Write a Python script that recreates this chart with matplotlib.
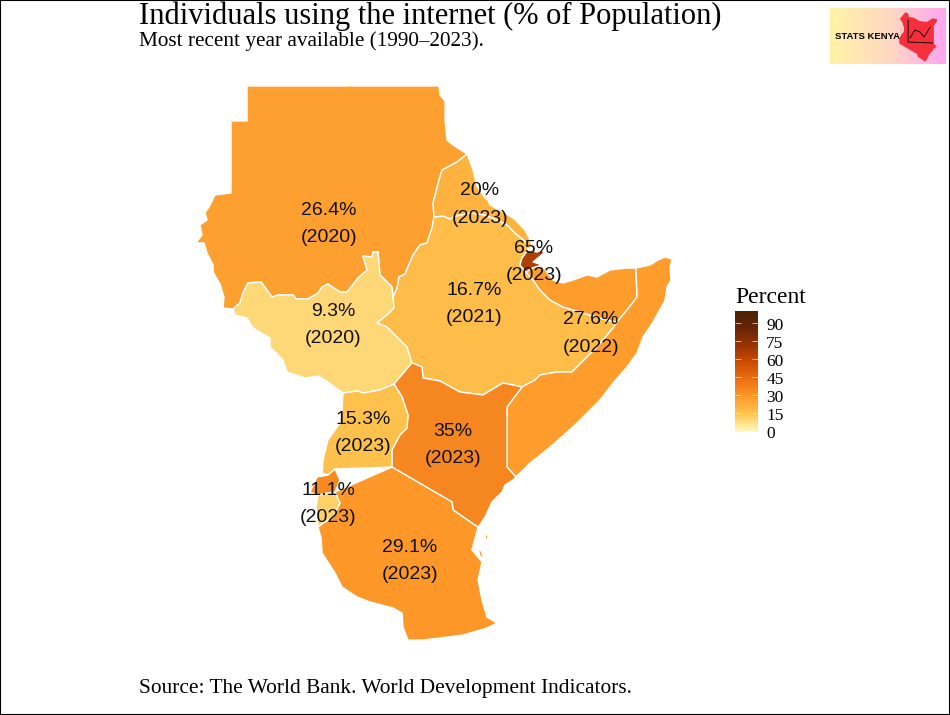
import numpy as np
import matplotlib
matplotlib.use("Agg")
import matplotlib.pyplot as plt
from matplotlib.patches import Polygon, Rectangle
from matplotlib.colors import LinearSegmentedColormap, Normalize
from matplotlib.cm import ScalarMappable
from matplotlib.transforms import ScaledTranslation

# ------------------------------------------------------------
# data: value, year, label position
# ------------------------------------------------------------
label_names = ["Sudan", "Eritrea", "Djibouti", "Ethiopia", "South Sudan",
               "Somalia", "Uganda", "Kenya", "Burundi", "Tanzania"]
label_values = [26.4, 20, 65, 16.7, 9.3, 27.6, 15.3, 35, 11.1, 29.1]
label_years = [2020, 2023, 2023, 2021, 2020, 2022, 2023, 2023, 2023, 2023]
label_lon = [30.13, 39.56, 42.94, 39.19, 30.38, 46.5, 32.25, 37.88, 30.06, 35.19]
label_lat = [13.31, 14.53, 10.93, 8.31, 7.0, 6.46, 0.25, -0.51, -4.19, -7.76]
rwanda_value = 34

legend_ticks = [0, 15, 30, 45, 60, 75, 90]
palette = ["#FFF7BC", "#FEC44F", "#FE9929", "#EC7014", "#CC4C02", "#993404", "#662506", "#4A2205"]

# ------------------------------------------------------------
# borders (lon, lat)
# ------------------------------------------------------------
sudan_outer = [(24.13, 8.0), (23.5, 8.06), (23.56, 8.75), (23.31, 9.56), (22.88, 10.31), (22.88, 10.75),
               (22.5, 11.5), (22.31, 12.13), (21.81, 12.13), (22.19, 12.63), (22.06, 13.25), (22.5, 13.56),
               (22.38, 14.0), (22.69, 14.5), (23.0, 15.13), (24.0, 15.25), (24.0, 19.75), (25.0, 19.75),
               (25.0, 21.94), (31.38, 21.94), (31.44, 22.13), (31.5, 21.94), (37.0, 21.94), (37.06, 21.38),
               (37.38, 21.0), (37.38, 19.81), (37.5, 18.56), (37.88, 18.25), (38.75, 17.69)]
sudan_eritrea = [(38.75, 17.69), (38.13, 17.19), (37.19, 16.69), (37.0, 16.06), (36.63, 14.63), (36.69, 13.75)]
sudan_ethiopia = [(36.69, 13.75), (36.56, 13.06), (36.25, 12.13), (35.81, 12.0), (35.38, 11.38), (35.06, 10.63),
                  (34.88, 10.19), (34.5, 10.0), (34.38, 9.31), (34.13, 8.75)]
sudan_ssudan = [(34.13, 8.75), (34.06, 9.38), (33.31, 10.13), (33.19, 11.56), (32.88, 11.56), (32.81, 11.25),
                (32.25, 11.31), (32.5, 10.44), (31.94, 9.94), (31.25, 9.06), (30.81, 9.06), (30.06, 9.56),
                (29.69, 9.38), (29.44, 9.0), (28.81, 8.63), (28.06, 8.63), (27.88, 8.88), (26.94, 8.88),
                (26.56, 8.75), (25.88, 9.69), (25.06, 9.63), (24.75, 9.0), (24.56, 8.38), (24.13, 8.0)]
ssudan_ethiopia = [(34.13, 8.75), (34.19, 8.06), (33.75, 7.63), (33.13, 7.13), (33.75, 6.88), (34.38, 6.25),
                   (35.0, 5.63), (35.31, 4.63)]
ssudan_kenya = [(35.31, 4.63), (34.19, 3.31)]
ssudan_uganda = [(34.19, 3.31), (33.31, 2.94), (32.25, 2.75), (31.94, 2.88), (31.0, 2.75)]
ssudan_west = [(31.0, 2.75), (29.88, 3.56), (29.44, 3.81), (28.63, 3.69), (27.5, 4.06), (27.25, 4.81),
               (26.44, 5.63), (26.44, 6.19), (25.38, 6.81), (25.0, 7.44), (24.25, 7.63), (24.13, 8.0)]
ethiopia_eritrea = [(36.69, 13.75), (37.25, 13.81), (37.69, 13.63), (38.0, 13.81), (38.94, 14.0), (39.88, 13.88),
                    (40.63, 13.56), (41.25, 13.25), (41.75, 12.75), (42.5, 12.13), (42.56, 11.69)]
eritrea_coast = [(38.75, 17.69), (39.13, 16.69), (39.38, 15.63), (39.88, 14.94), (40.06, 14.81), (40.19, 14.5),
                 (41.0, 14.06), (41.63, 13.69), (42.38, 12.94), (42.63, 12.44), (42.81, 11.94), (42.56, 11.69)]
ethiopia_djibouti = [(42.56, 11.69), (42.19, 11.19), (42.06, 10.75), (42.44, 10.31)]
djibouti_coast = [(42.56, 11.69), (43.13, 11.56), (43.44, 11.69), (43.56, 11.5), (42.88, 10.94), (43.44, 10.75),
                  (42.81, 10.56), (42.44, 10.31)]
ethiopia_somaliland = [(42.44, 10.31), (42.88, 9.81), (43.31, 9.19), (43.94, 8.56), (44.75, 8.13), (46.0, 7.75),
                       (47.5, 7.31), (48.13, 7.19)]
ethiopia_somalia = [(48.13, 7.19), (47.88, 6.81), (46.88, 5.63), (45.31, 4.06), (44.38, 4.06), (43.31, 3.88),
                    (43.0, 3.56), (42.19, 3.13)]
ethiopia_kenya = [(42.19, 3.13), (41.0, 3.38), (39.75, 2.63), (38.31, 2.81), (37.06, 3.5), (36.0, 3.69),
                  (35.94, 4.38), (35.31, 4.63)]
somaliland_coast = [(42.44, 10.31), (42.81, 10.56), (43.44, 10.69), (44.13, 9.81), (44.75, 9.63), (45.38, 9.81),
                    (46.25, 10.13), (46.88, 10.0), (47.69, 10.44), (48.75, 10.56), (49.31, 10.56)]
somaliland_somalia = [(49.31, 10.56), (49.38, 8.75), (48.75, 7.94), (48.13, 7.19)]
somalia_coast = [(49.31, 10.56), (50.19, 10.75), (50.69, 11.06), (51.13, 11.25), (51.56, 11.13), (51.44, 10.56),
                 (51.5, 9.81), (51.25, 9.38), (51.13, 8.56), (50.38, 7.19), (49.75, 6.25), (49.38, 5.25),
                 (48.75, 4.38), (47.88, 3.38), (47.06, 2.31), (45.5, 0.75), (43.94, -0.63), (42.69, -1.63),
                 (41.81, -2.5)]
kenya_somalia = [(41.81, -2.5), (41.25, -1.88), (41.25, 1.88), (42.19, 3.13)]
kenya_coast = [(41.81, -2.5), (41.63, -2.69), (41.13, -3.0), (40.94, -3.44), (40.31, -4.06), (39.88, -5.0),
               (39.44, -5.63)]
kenya_tanzania = [(39.44, -5.63), (39.06, -5.38), (37.88, -4.56), (37.81, -4.06), (34.06, -1.88)]
kenya_uganda = [(34.06, -1.88), (34.06, -0.81), (34.56, 0.13), (35.0, 0.56), (35.06, 1.38), (34.69, 2.5),
                (34.19, 3.31)]
uganda_south = [(34.06, -1.88), (30.5, -2.0), (30.06, -2.38), (29.69, -2.25)]
uganda_west = [(29.69, -2.25), (29.75, -1.44), (30.06, -0.19), (30.81, 0.88), (30.94, 1.69), (31.0, 2.75)]
rwanda_north = [(28.94, -3.44), (29.38, -2.5), (30.06, -2.38), (30.5, -2.0)]
rwanda_tanzania = [(30.5, -2.0), (30.81, -2.69), (30.5, -3.44)]
rwanda_burundi = [(30.5, -3.44), (30.0, -3.5), (29.44, -3.63), (28.94, -3.44)]
burundi_tanzania = [(29.44, -5.63), (29.75, -5.38), (30.38, -5.0), (30.81, -4.13), (30.5, -3.44)]
burundi_west = [(29.44, -3.63), (29.31, -4.38), (29.44, -5.63)]
tanzania_coast = [(39.44, -5.63), (39.06, -7.06), (39.69, -7.81), (39.44, -8.94), (39.69, -10.19), (40.0, -11.25),
                  (40.63, -11.63), (40.0, -11.94), (38.5, -12.38), (37.06, -12.56), (36.0, -12.69), (35.06, -12.69),
                  (34.75, -11.88), (34.69, -11.0), (34.13, -10.69), (32.69, -10.31), (31.88, -10.0), (30.94, -9.38),
                  (30.5, -8.5), (29.69, -7.25), (29.63, -6.31), (29.44, -5.63)]
pemba = [(39.94, -6.0), (40.06, -6.19), (40.0, -6.5), (39.88, -6.31)]
zanzibar = [(39.44, -6.94), (39.63, -7.13), (39.81, -7.56), (39.56, -7.44)]


def rev(seg):
    return seg[::-1]


sudan = sudan_outer + sudan_eritrea + sudan_ethiopia + sudan_ssudan
south_sudan = rev(sudan_ssudan) + ssudan_ethiopia + ssudan_kenya + ssudan_uganda + ssudan_west
ethiopia = (ethiopia_eritrea + ethiopia_djibouti + ethiopia_somaliland + ethiopia_somalia + ethiopia_kenya
            + rev(ssudan_ethiopia) + rev(sudan_ethiopia))
eritrea = eritrea_coast + rev(ethiopia_eritrea) + rev(sudan_eritrea)
djibouti = djibouti_coast + rev(ethiopia_djibouti)
somaliland = somaliland_coast + somaliland_somalia + rev(ethiopia_somaliland)
somalia = somalia_coast + kenya_somalia + rev(ethiopia_somalia) + rev(somaliland_somalia)
kenya = rev(ethiopia_kenya) + rev(kenya_somalia) + kenya_coast + kenya_tanzania + kenya_uganda + rev(ssudan_kenya)
uganda = rev(ssudan_uganda) + rev(kenya_uganda) + uganda_south + uganda_west
rwanda = rwanda_north + rwanda_tanzania + rwanda_burundi
burundi = rev(rwanda_burundi)[1:] + rev(burundi_tanzania) + rev(burundi_west)
tanzania = rev(kenya_tanzania) + tanzania_coast + burundi_tanzania + rwanda_tanzania

# small chart inside the logo, as fractions of the logo's Kenya box
logo_axis_x = [0.24, 0.24, 0.89]
logo_axis_y = [0.84, 0.40, 0.38]
logo_line_x = [0.29, 0.42, 0.55, 0.66, 0.82]
logo_line_y = [0.48, 0.64, 0.60, 0.50, 0.70]

# ------------------------------------------------------------
# figure
# ------------------------------------------------------------
W, H = 950, 715
fig = plt.figure(figsize=(W / 100, H / 100), dpi=100, facecolor="white")
ax = fig.add_axes([0, 0, 1, 1])
ax.set_xlim(9.5625, 68.9375)
ax.set_ylim(-17.375, 27.3125)
ax.axis("off")

cmap = LinearSegmentedColormap.from_list("pct", palette)
norm = Normalize(0, 100)

shapes = [(sudan, 26.4), (south_sudan, 9.3), (ethiopia, 16.7), (eritrea, 20), (somaliland, 27.6),
          (somalia, 27.6), (djibouti, 65), (kenya, 35), (uganda, 15.3), (tanzania, 29.1),
          (pemba, 29.1), (zanzibar, 29.1), (burundi, 11.1), (rwanda, rwanda_value)]
for pts, val in shapes:
    ax.add_patch(Polygon(pts, closed=True, facecolor=cmap(norm(val)), edgecolor="white", linewidth=1.0,
                         joinstyle="round"))

for lon, lat, val, yr in zip(label_lon, label_lat, label_values, label_years):
    ax.text(lon, lat, f"{val:g}%\n({yr})", ha="center", va="center", fontsize=14,
            family="Liberation Sans", color="#111111", linespacing=1.82)

serif = "Liberation Serif"
fig.text(139 / W, 1 - 16 / H, "Individuals using the internet (% of Population)", family=serif,
         fontsize=22, va="center", color="black")
fig.text(139 / W, 1 - 41 / H, "Most recent year available (1990–2023).", family=serif,
         fontsize=15.3, va="center", color="black")
fig.text(139 / W, 1 - 688 / H, "Source: The World Bank. World Development Indicators.", family=serif,
         fontsize=15.4, va="center", color="black")

# legend
fig.text(735 / W, 1 - 297 / H, "Percent", family=serif, fontsize=17, va="center", color="black")
cax = fig.add_axes([735 / W, 1 - 431 / H, 23 / W, 120 / H])
cb = fig.colorbar(ScalarMappable(norm=norm, cmap=cmap), cax=cax, ticks=legend_ticks)
cb.outline.set_visible(False)
cax.tick_params(axis="y", direction="in", left=True, right=True, length=4, width=0.5, color="#FFE9C8",
                labelsize=12.5, pad=6)
shift = ScaledTranslation(0, -1 / 72, fig.dpi_scale_trans)
for t in cax.get_yticklabels():
    t.set_family(serif)
    t.set_transform(t.get_transform() + shift)

# logo
lax = fig.add_axes([830 / W, 1 - 64 / H, 115 / W, 56 / H])
grad = LinearSegmentedColormap.from_list("logo", ["#FFF3A8", "#FFD9C0", "#FFA6F2"])
lax.imshow(np.linspace(0, 1, 200).reshape(1, -1), aspect="auto", cmap=grad, extent=[0, 1, 0, 1])
lax.axis("off")
lax.text(0.045, 0.49, "STATS KENYA", fontsize=6.8, fontweight="bold", family="Liberation Sans",
         va="center", color="black")
kx = fig.add_axes([899 / W, 1 - 62 / H, 38 / W, 50 / H])
kx.axis("off")
kx.set_xlim(34, 41.9)
kx.set_ylim(-5.7, 4.7)
kx.add_patch(Polygon(kenya, closed=True, facecolor="#F5303C", edgecolor="none"))
kx2 = fig.add_axes([899 / W, 1 - 62 / H, 38 / W, 50 / H])
kx2.axis("off")
kx2.set_xlim(0, 1)
kx2.set_ylim(0, 1)
kx2.plot(logo_axis_x, logo_axis_y, color="black", lw=0.6)
kx2.plot(logo_line_x, logo_line_y, color="black", lw=0.6)

# frame round the whole picture
fig.add_artist(Rectangle((0, 0), 1, 1, transform=fig.transFigure, fill=False, edgecolor="black", linewidth=1.5))

fig.savefig("out.png", dpi=100)
